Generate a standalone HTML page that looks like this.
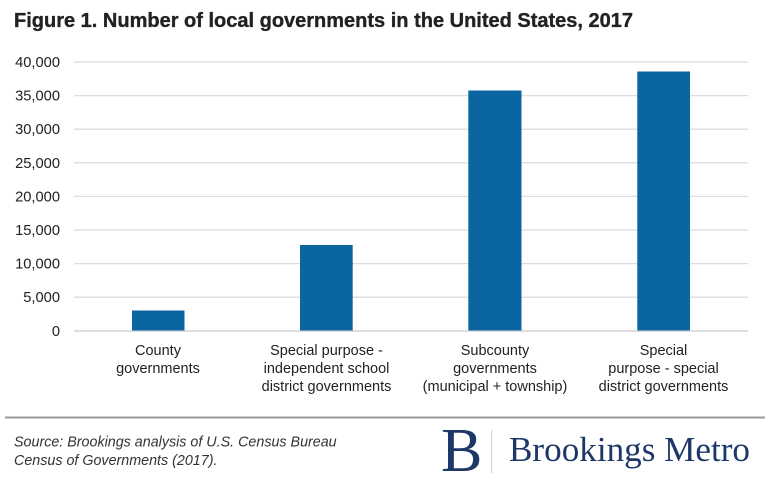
<!DOCTYPE html>
<html>
<head>
<meta charset="utf-8">
<style>
  html, body { margin:0; padding:0; background:#fff; }
  body { width:770px; height:500px; overflow:hidden; position:relative; font-family:"Liberation Sans", Arial, sans-serif; }
  svg { position:absolute; left:0; top:0; }
</style>
</head>
<body>
<svg width="770" height="500" viewBox="0 0 770 500" xmlns="http://www.w3.org/2000/svg">
  <!-- Title -->
  <text x="14" y="27" font-family="Liberation Sans, Arial, sans-serif" font-weight="bold" font-size="20" fill="#222" stroke="#222" stroke-width="0.35">Figure 1. Number of local governments in the United States, 2017</text>

  <!-- Gridlines -->
  <g stroke="#dcdcdc" stroke-width="1.3">
    <line x1="74" x2="748" y1="62" y2="62"/>
    <line x1="74" x2="748" y1="95.6" y2="95.6"/>
    <line x1="74" x2="748" y1="129.2" y2="129.2"/>
    <line x1="74" x2="748" y1="162.8" y2="162.8"/>
    <line x1="74" x2="748" y1="196.4" y2="196.4"/>
    <line x1="74" x2="748" y1="230" y2="230"/>
    <line x1="74" x2="748" y1="263.6" y2="263.6"/>
    <line x1="74" x2="748" y1="297.2" y2="297.2"/>
  </g>
  <line x1="74" x2="748" y1="331" y2="331" stroke="#d4d4d4" stroke-width="1.6"/>

  <!-- Y labels -->
  <g font-family="Liberation Sans, Arial, sans-serif" font-size="14.7" fill="#222" text-anchor="end">
    <text x="60" y="67">40,000</text>
    <text x="60" y="100.6">35,000</text>
    <text x="60" y="134.2">30,000</text>
    <text x="60" y="167.8">25,000</text>
    <text x="60" y="201.4">20,000</text>
    <text x="60" y="235">15,000</text>
    <text x="60" y="268.6">10,000</text>
    <text x="60" y="302.2">5,000</text>
    <text x="60" y="336">0</text>
  </g>

  <!-- Bars -->
  <g fill="#0a65a0">
    <rect x="132" y="310.5" width="52.5" height="20"/>
    <rect x="300" y="245" width="52.7" height="85.5"/>
    <rect x="468.3" y="90.5" width="53.2" height="240"/>
    <rect x="637.3" y="71.5" width="52.7" height="259"/>
  </g>

  <!-- Category labels -->
  <g font-family="Liberation Sans, Arial, sans-serif" font-size="14.5" fill="#222" text-anchor="middle">
    <text x="158" y="355">County</text>
    <text x="158" y="373">governments</text>

    <text x="326.5" y="355">Special purpose -</text>
    <text x="326.5" y="373">independent school</text>
    <text x="326.5" y="391">district governments</text>

    <text x="495" y="355">Subcounty</text>
    <text x="495" y="373">governments</text>
    <text x="495" y="391">(municipal + township)</text>

    <text x="663.5" y="355">Special</text>
    <text x="663.5" y="373">purpose - special</text>
    <text x="663.5" y="391">district governments</text>
  </g>

  <!-- Separator -->
  <line x1="5" x2="765" y1="417.5" y2="417.5" stroke="#9a9a9a" stroke-width="2"/>

  <!-- Source -->
  <g font-family="Liberation Sans, Arial, sans-serif" font-style="italic" font-size="14.3" fill="#333">
    <text x="14" y="446.5">Source: Brookings analysis of U.S. Census Bureau</text>
    <text x="14" y="465">Census of Governments (2017).</text>
  </g>

  <!-- Logo -->
  <text x="441" y="471" font-family="Liberation Serif, 'Times New Roman', serif" font-size="62" fill="#1d3868">B</text>
  <line x1="491.7" x2="491.7" y1="430" y2="473" stroke="#c8cfdc" stroke-width="1"/>
  <text x="509" y="461" font-family="Liberation Serif, 'Times New Roman', serif" font-size="35" fill="#1d3868" textLength="241" lengthAdjust="spacingAndGlyphs">Brookings Metro</text>
</svg>
</body>
</html>
